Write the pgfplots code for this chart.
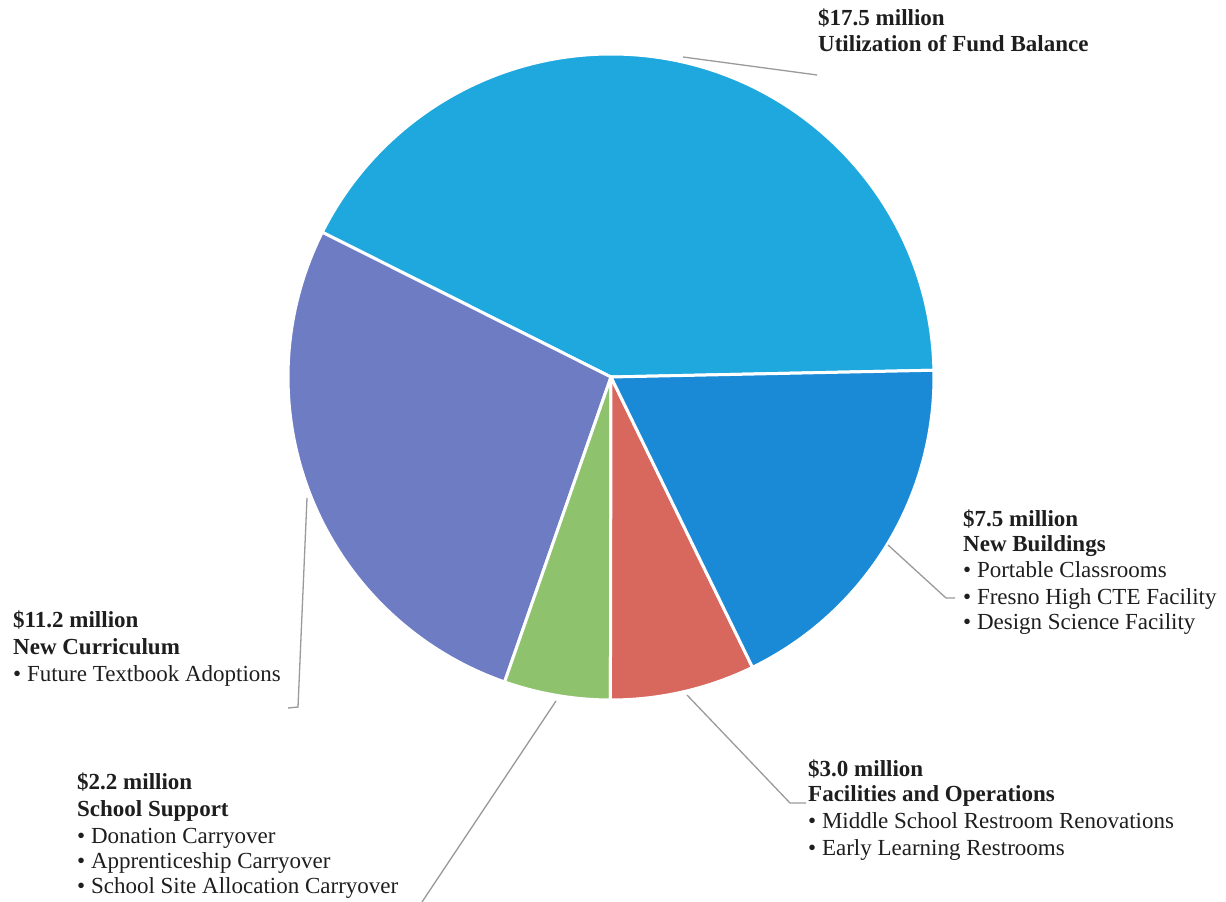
\documentclass[border=0pt]{standalone}
\usepackage{pgfplots}
\pgfplotsset{compat=1.18}
\usepackage{pgfplotstable}
\usepackage{fontspec}
\setmainfont{LiberationSerif}[Extension=.ttf, UprightFont=*-Regular, BoldFont=*-Bold, ItalicFont=*-Italic, BoldItalicFont=*-BoldItalic]
\definecolor{cBig}{HTML}{1EA8DE}
\definecolor{cPurple}{HTML}{6E7CC4}
\definecolor{cGreen}{HTML}{8EC26C}
\definecolor{cRed}{HTML}{D8675E}
\definecolor{cDark}{HTML}{1A8AD6}
\definecolor{txt}{HTML}{1E1E1E}
\definecolor{lead}{HTML}{9A9A9A}
\newcommand\lbl{\rmfamily\fontsize{23}{26.5}\selectfont\color{txt}}
\pgfplotstableread{
value color
17.5 cBig
11.2 cPurple
2.2 cGreen
3.0 cRed
7.5 cDark
}\piedata
\begin{document}%
\def\pietotal{0}%
\pgfplotsinvokeforeach{0,...,4}{%
\pgfplotstablegetelem{#1}{value}\of\piedata%
\pgfmathparse{\pietotal+\pgfplotsretval}\xdef\pietotal{\pgfmathresult}%
}%
\def\pieacc{1.2}%
\pgfplotsinvokeforeach{0,...,4}{%
\pgfmathtruncatemacro\k{#1+1}%
\pgfplotstablegetelem{#1}{value}\of\piedata\let\v\pgfplotsretval%
\expandafter\xdef\csname piestart\k\endcsname{\pieacc}%
\pgfmathparse{611+323*cos(\pieacc)}\expandafter\xdef\csname piex\k\endcsname{\pgfmathresult}%
\pgfmathparse{525+323*sin(\pieacc)}\expandafter\xdef\csname piey\k\endcsname{\pgfmathresult}%
\pgfmathparse{\pieacc+360*\v/\pietotal}\xdef\pieacc{\pgfmathresult}%
\expandafter\xdef\csname pieend\k\endcsname{\pieacc}%
\pgfplotstablegetelem{#1}{color}\of\piedata%
\expandafter\xdef\csname piecolname\k\endcsname{\pgfplotsretval}%
}%
\begin{tikzpicture}
\begin{axis}[name=ax,width=1226pt,height=902pt,scale only axis,
  xmin=0,xmax=1226,ymin=0,ymax=902,hide axis,clip=false]
\pgfplotsinvokeforeach{1,...,5}{%
\edef\temp{\noexpand\filldraw[fill=\csname piecolname#1\endcsname, draw=white, line width=3pt, line join=round]
 (axis cs:611,525) -- (axis cs:\csname piex#1\endcsname,\csname piey#1\endcsname)
 arc[start angle=\csname piestart#1\endcsname, end angle=\csname pieend#1\endcsname, radius=323pt] -- cycle;}%
\temp}
% leader lines
\draw[lead, line width=1.3pt] (axis cs:683,845) -- (axis cs:817,827);
\draw[lead, line width=1.3pt] (axis cs:888,357) -- (axis cs:946,304) -- (axis cs:955,304);
\draw[lead, line width=1.3pt] (axis cs:307,404) -- (axis cs:298,195) -- (axis cs:288,194);
\draw[lead, line width=1.3pt] (axis cs:556,201) -- (axis cs:422,0);
\draw[lead, line width=1.3pt] (axis cs:687,207) -- (axis cs:790,99) -- (axis cs:806,99);
% labels
\node[anchor=base west, inner sep=0, font=\lbl] at (axis cs:818,876) {\bfseries \$17.5 million};
\node[anchor=base west, inner sep=0, font=\lbl] at (axis cs:818,850) {\bfseries Utilization of Fund Balance};
\node[anchor=base west, inner sep=0, font=\lbl] at (axis cs:963,375) {\bfseries \$7.5 million};
\node[anchor=base west, inner sep=0, font=\lbl] at (axis cs:963,350) {\bfseries New Buildings};
\node[anchor=base west, inner sep=0, font=\lbl] at (axis cs:963,324) {• Portable Classrooms};
\node[anchor=base west, inner sep=0, font=\lbl] at (axis cs:963,297) {• Fresno High CTE Facility};
\node[anchor=base west, inner sep=0, font=\lbl] at (axis cs:963,272) {• Design Science Facility};
\node[anchor=base west, inner sep=0, font=\lbl] at (axis cs:13,274) {\bfseries \$11.2 million};
\node[anchor=base west, inner sep=0, font=\lbl] at (axis cs:13,247) {\bfseries New Curriculum};
\node[anchor=base west, inner sep=0, font=\lbl] at (axis cs:13,220) {• Future Textbook Adoptions};
\node[anchor=base west, inner sep=0, font=\lbl] at (axis cs:77,112) {\bfseries \$2.2 million};
\node[anchor=base west, inner sep=0, font=\lbl] at (axis cs:77,85) {\bfseries School Support};
\node[anchor=base west, inner sep=0, font=\lbl] at (axis cs:77,59) {• Donation Carryover};
\node[anchor=base west, inner sep=0, font=\lbl] at (axis cs:77,34) {• Apprenticeship Carryover};
\node[anchor=base west, inner sep=0, font=\lbl] at (axis cs:77,9) {• School Site Allocation Carryover};
\node[anchor=base west, inner sep=0, font=\lbl] at (axis cs:808,125) {\bfseries \$3.0 million};
\node[anchor=base west, inner sep=0, font=\lbl] at (axis cs:808,100) {\bfseries Facilities and Operations};
\node[anchor=base west, inner sep=0, font=\lbl] at (axis cs:808,74) {• Middle School Restroom Renovations};
\node[anchor=base west, inner sep=0, font=\lbl] at (axis cs:808,47) {• Early Learning Restrooms};
\end{axis}
\pgfresetboundingbox
\useasboundingbox (ax.south west) rectangle (ax.north east);
\end{tikzpicture}%
\end{document}
